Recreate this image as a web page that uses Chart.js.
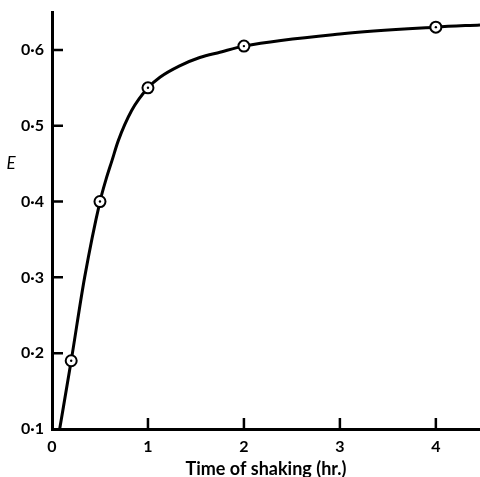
<!DOCTYPE html>
<html>
<head>
<meta charset="utf-8">
<script src="https://cdn.jsdelivr.net/npm/chart.js@4/dist/chart.umd.min.js"></script>
<style>
  body { margin: 0; background: #fff; }
  canvas { display: block; }
</style>
</head>
<body>
<canvas id="grafico" width="480" height="477"></canvas>
<script>
// valores
const tempoMedido = [0.2, 0.5, 1, 2, 4];
const extincaoMedida = [0.19, 0.40, 0.55, 0.605, 0.63];

// pontos ao longo da curva desenhada
const tempoCurva = [0.08, 0.2, 0.34, 0.5, 0.56, 0.625, 0.69, 0.83, 1, 1.125, 1.33, 1.54, 1.75, 2, 3, 4, 4.46];
const extincaoCurva = [0.1, 0.19, 0.3, 0.40, 0.428, 0.454, 0.48, 0.52, 0.55, 0.564, 0.579, 0.59, 0.597, 0.605, 0.621, 0.63, 0.633];

const ticksX = [0, 1, 2, 3, 4];
const ticksY = [0.1, 0.2, 0.3, 0.4, 0.5, 0.6];

const fonte = 'Lato, "Open Sans", sans-serif';

function pares(xs, ys) {
  return xs.map((x, i) => ({ x: x, y: ys[i] }));
}

// marcas de escala voltadas para dentro + rótulo E
const marcasInternas = {
  id: 'marcasInternas',
  afterDraw(chart) {
    const ctx = chart.ctx;
    const sx = chart.scales.x;
    const sy = chart.scales.y;
    const area = chart.chartArea;
    ctx.save();
    ctx.strokeStyle = '#000';
    ctx.lineWidth = 2.5;
    ctx.beginPath();
    ticksX.forEach(v => {
      if (v === 0) return;
      const px = sx.getPixelForValue(v);
      ctx.moveTo(px, area.bottom);
      ctx.lineTo(px, area.bottom - 11);
    });
    ticksY.forEach(v => {
      if (v === 0.1) return;
      const py = sy.getPixelForValue(v);
      ctx.moveTo(area.left, py);
      ctx.lineTo(area.left + 11, py);
    });
    ctx.stroke();

    ctx.fillStyle = '#000';
    ctx.font = 'italic 17px ' + fonte;
    ctx.textAlign = 'center';
    ctx.textBaseline = 'middle';
    ctx.fillText('E', 11, sy.getPixelForValue(0.45));
    ctx.restore();
  }
};

new Chart(document.getElementById('grafico'), {
  type: 'scatter',
  data: {
    datasets: [
      {
        label: 'centro',
        data: pares(tempoMedido, extincaoMedida),
        pointRadius: 1.2,
        pointBackgroundColor: '#000',
        pointBorderWidth: 0,
        showLine: false
      },
      {
        label: 'medidas',
        data: pares(tempoMedido, extincaoMedida),
        pointRadius: 5.5,
        pointBackgroundColor: '#fff',
        pointBorderColor: '#000',
        pointBorderWidth: 2,
        showLine: false
      },
      {
        label: 'curva',
        data: pares(tempoCurva, extincaoCurva),
        showLine: true,
        borderColor: '#000',
        borderWidth: 3,
        pointRadius: 0,
        cubicInterpolationMode: 'monotone',
        fill: false,
        clip: false
      }
    ]
  },
  options: {
    responsive: false,
    animation: false,
    layout: { autoPadding: false, padding: { top: 12, right: 0, left: 0, bottom: 0 } },
    plugins: {
      legend: { display: false },
      tooltip: { enabled: false }
    },
    scales: {
      x: {
        type: 'linear',
        min: 0,
        max: 4.46,
        afterBuildTicks: (s) => { s.ticks = ticksX.map(v => ({ value: v })); },
        afterFit: (s) => { s.height = 48; s.paddingLeft = 0; s.paddingRight = 0; },
        grid: { display: false, drawTicks: false },
        border: { display: true, color: '#000', width: 3 },
        ticks: {
          color: '#000',
          padding: 8,
          maxRotation: 0,
          font: { family: fonte, size: 16, weight: 'bold' },
          callback: (v) => String(v)
        },
        title: {
          display: true,
          text: 'Time of shaking (hr.)',
          color: '#000',
          font: { family: fonte, size: 18, weight: 'bold' },
          padding: { top: 0, bottom: -3 }
        }
      },
      y: {
        type: 'linear',
        min: 0.1,
        max: 0.65,
        afterBuildTicks: (s) => { s.ticks = ticksY.map(v => ({ value: v })); },
        afterFit: (s) => { s.width = 52; s.paddingTop = 0; s.paddingBottom = 0; },
        grid: { display: false, drawTicks: false },
        border: { display: true, color: '#000', width: 3 },
        ticks: {
          color: '#000',
          padding: 8,
          font: { family: fonte, size: 16, weight: 'bold' },
          callback: (v) => v.toFixed(1).replace('.', '·')
        }
      }
    }
  },
  plugins: [marcasInternas]
});
</script>
</body>
</html>
